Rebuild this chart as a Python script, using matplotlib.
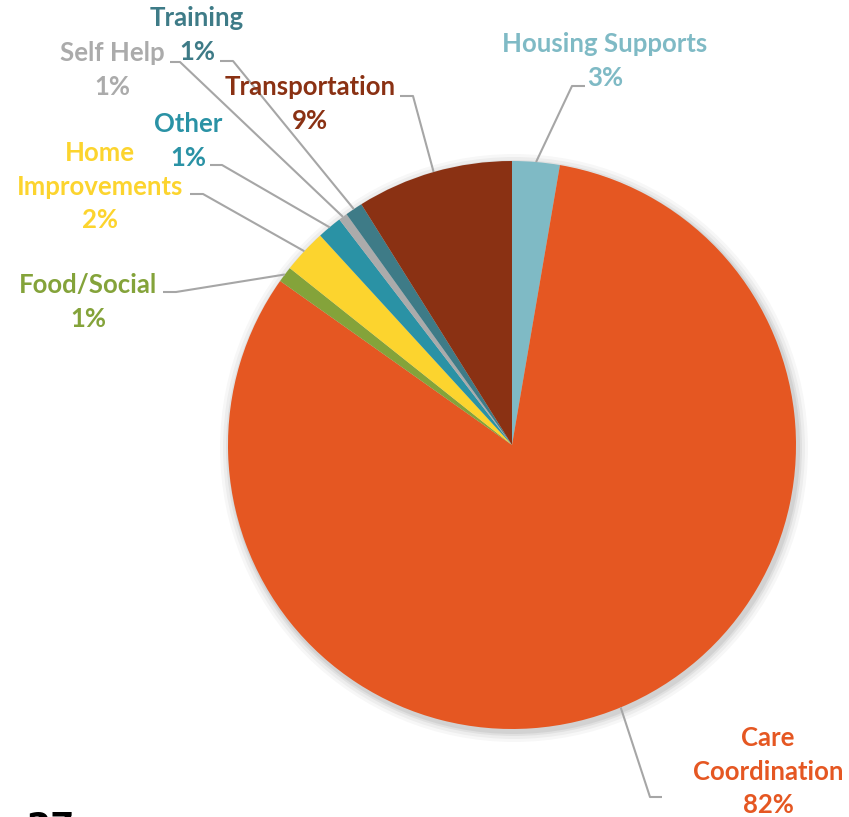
import numpy as np
import matplotlib.pyplot as plt

# values (percent of total), clockwise from 12 o'clock
categories = ["Housing Supports", "Care Coordination", "Food/Social", "Home Improvements",
              "Other", "Self Help", "Training", "Transportation"]
shares = [2.7, 82.1, 0.9, 2.5, 1.4, 0.5, 1.0, 8.9]
pct_labels = ["3%", "82%", "1%", "2%", "1%", "1%", "1%", "9%"]
colors = ["#7FBAC5", "#E55722", "#84A33A", "#FCD42E",
          "#2A92A5", "#ABABAB", "#3E7B87", "#8A3113"]

W, H = 849, 817
CX, CY, R = 512, 445, 284  # pie centre/radius in pixel coords (y down)


def py(y):
    return H - y


fig = plt.figure(figsize=(W / 100, H / 100), dpi=100)
ax = fig.add_axes([0, 0, 1, 1])

# soft shadow behind the pie
for k, a in zip([10, 7, 4, 2], [0.03, 0.04, 0.05, 0.06]):
    ax.add_patch(plt.Circle((CX + 2, py(CY) - 3), R + k, color="black", alpha=a, lw=0, zorder=0))

wedges, _ = ax.pie(shares, colors=colors, startangle=90, counterclock=False,
                   center=(CX, py(CY)), radius=R, frame=True,
                   wedgeprops=dict(linewidth=0))
ax.set_xlim(0, W)
ax.set_ylim(0, H)
ax.set_aspect("equal")
ax.axis("off")

# label layout: name text lines, text centre x, first line y, elbow point, line end x
layout = {
    "Housing Supports": (["Housing Supports"], 605, 44, (585, 86), 572),
    "Care Coordination": (["Care", "Coordination"], 768, 738, (662, 797), 650),
    "Food/Social": (["Food/Social"], 88, 285, (163, 292), 176),
    "Home Improvements": (["Home", "Improvements"], 100, 153, (190, 194), 203),
    "Other": (["Other"], 188, 124, (210, 165), 222),
    "Self Help": (["Self Help"], 112, 53, (170, 62), 180),
    "Training": (["Training"], 197, 18, (220, 61), 233),
    "Transportation": (["Transportation"], 310, 87, (400, 96), 413),
}

line_gap = 33.5
for name, pct, w, col in zip(categories, pct_labels, wedges, colors):
    lines, tx, ty, elbow, ex = layout[name]
    for i, t in enumerate(lines + [pct]):
        ax.text(tx, py(ty + i * line_gap), t, color=col, fontsize=18.5, fontweight="bold",
                family="Lato", ha="center", va="center", zorder=5)
    mid = np.deg2rad((w.theta1 + w.theta2) / 2)
    axp = CX + R * np.cos(mid)
    ayp = py(CY) + R * np.sin(mid)
    ax.plot([elbow[0], ex, axp], [py(elbow[1]), py(elbow[1]), ayp],
            color="#A6A6A6", lw=1.5, zorder=4, solid_capstyle="butt")

# page number cut off at the bottom edge
ax.text(26, py(811), "27", color="black", fontsize=25, fontweight="bold",
        family="DejaVu Sans", ha="left", va="top")

fig.savefig("out.png", dpi=100)
